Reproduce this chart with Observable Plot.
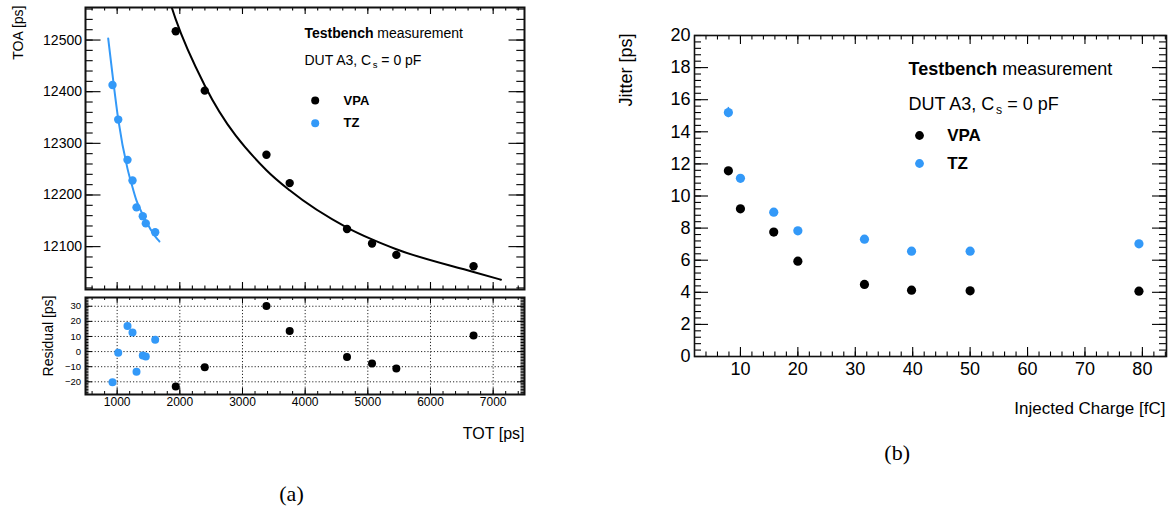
<!DOCTYPE html>
<html>
<head>
<meta charset="utf-8">
<script src="https://cdn.jsdelivr.net/npm/d3@7"></script>
<script src="https://cdn.jsdelivr.net/npm/@observablehq/plot@0.6"></script>
<style>
  html, body { margin: 0; padding: 0; background: #fff; }
  #wrap { position: relative; width: 1173px; height: 511px; overflow: hidden; background: #fff; }
  #wrap svg { position: absolute; overflow: visible; }
</style>
</head>
<body>
<div id="wrap"></div>
<script>
// ---------------- DATA ----------------
// (a) top: TOA vs TOT
const totVPA = [1935, 2398, 3382, 3753, 4668, 5067, 5455, 6687];
const toaVPA = [12517, 12402, 12278, 12223, 12134, 12106, 12084, 12062];
const totTZ  = [926, 1017, 1165, 1245, 1309, 1409, 1457, 1607];
const toaTZ  = [12413, 12346, 12268, 12228, 12176, 12159, 12145, 12128];
// fit curves, points
const fitVPAtot = [1800, 1935, 2398, 3382, 3753, 4668, 5067, 5455, 6687, 7124];
const fitVPAtoa = [12590, 12540, 12412, 12248, 12209, 12137, 12114, 12095, 12051, 12036];
const fitTZtot  = [857, 926, 1017, 1165, 1245, 1309, 1409, 1457, 1607, 1675];
const fitTZtoa  = [12503, 12433, 12347, 12251, 12215, 12189, 12162, 12150, 12120, 12110];
// (a) bottom: residuals
const resVPA = [-23.1, -10.3, 30.2, 13.7, -3.5, -7.9, -11.2, 10.6];
const resTZ  = [-20.3, -0.8, 17.0, 12.6, -13.4, -2.6, -3.3, 7.8];
// (b) jitter vs injected charge
const charge    = [7.9, 10, 15.8, 20, 31.6, 39.8, 50, 79.4];
const jitterVPA = [11.57, 9.2, 7.75, 5.94, 4.49, 4.13, 4.09, 4.07];
const jitterTZ  = [15.2, 11.1, 8.99, 7.83, 7.31, 6.56, 6.56, 7.02];
const errVPA    = [0.15, 0.1, 0.08, 0.06, 0.05, 0.05, 0.05, 0.05];
const errTZ     = [0.32, 0.12, 0.1, 0.08, 0.08, 0.07, 0.07, 0.08];
// tick labels
const totTicks    = [1000, 2000, 3000, 4000, 5000, 6000, 7000];
const toaTicks    = [12100, 12200, 12300, 12400, 12500];
const resTicks    = [-20, -10, 0, 10, 20, 30];
const chargeTicks = [10, 20, 30, 40, 50, 60, 70, 80];
const jitterTicks = [0, 2, 4, 6, 8, 10, 12, 14, 16, 18, 20];
// series
const seriesNames = ["VPA", "TZ"];
const seriesColors = ["#000000", "#3399f8"];
// text
const titleBold = "Testbench";
const titleRest = "measurement";
const dutText = "DUT A3, C";
const dutSub = "s";
const dutRest = "= 0 pF";
const labelTOA = "TOA [ps]";
const labelRes = "Residual [ps]";
const labelTOT = "TOT [ps]";
const labelJit = "Jitter [ps]";
const labelQ = "Injected Charge [fC]";
const capA = "(a)";
const capB = "(b)";

// ---------------- helpers ----------------
const FONT = "Liberation Sans, Arial, Helvetica, sans-serif";
const BLUE = seriesColors[1];
const ctx = document.createElement("canvas").getContext("2d");
function tw(str, size, weight = "normal") {
  ctx.font = `${weight} ${size}px "Liberation Sans"`;
  return ctx.measureText(str).width;
}
function inDom(arr, dom) { return arr.filter(d => d >= Math.min(...dom) - 1e-9 && d <= Math.max(...dom) + 1e-9); }
function rootTicks({xMaj, xMin, yMaj, yMin, iw, ih, xL, xl, yL, yl, sw = 1.1}) {
  const st = {stroke: "#000", strokeWidth: sw};
  return [
    Plot.tickX(xMaj, {x: d => d, insetTop: ih - xL, ...st}),
    Plot.tickX(xMaj, {x: d => d, insetBottom: ih - xL, ...st}),
    Plot.tickX(xMin, {x: d => d, insetTop: ih - xl, ...st}),
    Plot.tickX(xMin, {x: d => d, insetBottom: ih - xl, ...st}),
    Plot.tickY(yMaj, {y: d => d, insetRight: iw - yL, ...st}),
    Plot.tickY(yMaj, {y: d => d, insetLeft: iw - yL, ...st}),
    Plot.tickY(yMin, {y: d => d, insetRight: iw - yl, ...st}),
    Plot.tickY(yMin, {y: d => d, insetLeft: iw - yl, ...st})
  ];
}
function txt(str, o) {
  return Plot.text([str], {text: d => d, frameAnchor: "top-left", textAnchor: "start", lineAnchor: "middle", fill: "#000", ...o});
}
function header(x0, y1, y2, ly1, ly2, dotX, labX, size, legSize, r) {
  const sub = size * 0.68;
  const sp = tw(" ", size);
  const wB = tw(titleBold, size, "bold");
  const wC = tw(dutText, size);
  const wS = tw(dutSub, sub);
  return [
    txt(titleBold, {dx: x0, dy: y1, fontSize: size, fontWeight: "bold"}),
    txt(titleRest, {dx: x0 + wB + sp, dy: y1, fontSize: size}),
    txt(dutText, {dx: x0, dy: y2, fontSize: size}),
    txt(dutSub, {dx: x0 + wC + 0.5, dy: y2 + size * 0.32, fontSize: sub}),
    txt(dutRest, {dx: x0 + wC + wS + sp + 0.5, dy: y2, fontSize: size}),
    Plot.dot([0], {frameAnchor: "top-left", dx: dotX, dy: ly1, r, fill: seriesColors[0]}),
    Plot.dot([0], {frameAnchor: "top-left", dx: dotX, dy: ly2, r, fill: seriesColors[1]}),
    txt(seriesNames[0], {dx: labX, dy: ly1, fontSize: legSize, fontWeight: "bold"}),
    txt(seriesNames[1], {dx: labX, dy: ly2, fontSize: legSize, fontWeight: "bold"})
  ];
}
const wrap = document.getElementById("wrap");
function place(svg, left, top) {
  svg.style.left = left + "px";
  svg.style.top = top + "px";
  wrap.appendChild(svg);
}
const style = {fontFamily: FONT, fontSize: "14px", background: "transparent", color: "#000"};

// ---------------- tables ----------------
const vpaPts = totVPA.map((t, i) => ({tot: t, toa: toaVPA[i], res: resVPA[i]}));
const tzPts = totTZ.map((t, i) => ({tot: t, toa: toaTZ[i], res: resTZ[i]}));
const fitVPA = fitVPAtot.map((t, i) => ({tot: t, toa: fitVPAtoa[i]}));
const fitTZ = fitTZtot.map((t, i) => ({tot: t, toa: fitTZtoa[i]}));
const jitVPA = charge.map((q, i) => ({q, j: jitterVPA[i], e: errVPA[i]}));
const jitTZ = charge.map((q, i) => ({q, j: jitterTZ[i], e: errTZ[i]}));

// ---------------- (a) top panel ----------------
const totDomain = [495, 7500];
const toaDomain = [12017, 12563];
const resDomain = [-28.4, 35.8];
const totMinor = inDom(d3.range(600, 7500, 200), totDomain);
const toaMinor = inDom(d3.range(12020, 12563, 20), toaDomain);
const resMinor = inDom(d3.range(-28, 36, 1), resDomain);

{
  const w = 540, h = 296, ml = 85, mr = 16, mt = 7, mb = 7;
  const iw = w - ml - mr, ih = h - mt - mb;
  const svg = Plot.plot({
    width: w, height: h, marginLeft: ml, marginRight: mr, marginTop: mt, marginBottom: mb,
    x: {domain: totDomain, axis: null},
    y: {domain: toaDomain, axis: null},
    style,
    marks: [
      Plot.line(fitVPA, {x: "tot", y: "toa", stroke: seriesColors[0], strokeWidth: 2, curve: "monotone-x", clip: true}),
      Plot.line(fitTZ, {x: "tot", y: "toa", stroke: BLUE, strokeWidth: 2, curve: "monotone-x", clip: true}),
      Plot.dot(vpaPts, {x: "tot", y: "toa", r: 4.2, fill: seriesColors[0]}),
      Plot.dot(tzPts, {x: "tot", y: "toa", r: 4.2, fill: BLUE}),
      ...rootTicks({xMaj: totTicks, xMin: totMinor, yMaj: toaTicks, yMin: toaMinor, iw, ih, xL: 7, xl: 3.5, yL: 15.5, yl: 7.7}),
      Plot.frame({stroke: "#111", strokeWidth: 2}),
      Plot.axisY({ticks: toaTicks, tickSize: 0, tickPadding: 3.5, fontSize: 14, tickFormat: d3.format("d"), label: null}),
      Plot.text([labelTOA], {text: d => d, frameAnchor: "top-left", dx: -67, dy: -2, rotate: -90, textAnchor: "end", lineAnchor: "middle", fontSize: 14}),
      ...header(219, 26, 53, 93, 115.7, 229.7, 258, 14, 13, 4)
    ]
  });
  place(svg, 0, 0);
}

// ---------------- (a) residual panel ----------------
{
  const w = 540, h = 221, ml = 85, mr = 16, mt = 7, mb = 117;
  const iw = w - ml - mr, ih = h - mt - mb;
  const svg = Plot.plot({
    width: w, height: h, marginLeft: ml, marginRight: mr, marginTop: mt, marginBottom: mb,
    x: {domain: totDomain, axis: null},
    y: {domain: resDomain, axis: null},
    style,
    marks: [
      Plot.gridX({ticks: totTicks, stroke: "#000", strokeOpacity: 0.85, strokeWidth: 1, strokeDasharray: "1.2,2"}),
      Plot.gridY({ticks: resTicks, stroke: "#000", strokeOpacity: 0.85, strokeWidth: 1, strokeDasharray: "1.2,2"}),
      Plot.dot(vpaPts, {x: "tot", y: "res", r: 4, fill: seriesColors[0]}),
      Plot.dot(tzPts, {x: "tot", y: "res", r: 4, fill: BLUE}),
      ...rootTicks({xMaj: totTicks, xMin: totMinor, yMaj: resTicks, yMin: resMinor, iw, ih, xL: 6, xl: 3, yL: 7, yl: 3.5, sw: 1}),
      Plot.frame({stroke: "#111", strokeWidth: 2}),
      Plot.axisY({ticks: resTicks, tickSize: 0, tickPadding: 4.5, fontSize: 9.5, tickFormat: d3.format("d"), label: null}),
      Plot.axisX({ticks: totTicks, tickSize: 0, tickPadding: 3, fontSize: 12, tickFormat: d3.format("d"), label: null}),
      Plot.text([labelRes], {text: d => d, frameAnchor: "top-left", dx: -37, dy: -2, rotate: -90, textAnchor: "end", lineAnchor: "middle", fontSize: 14}),
      Plot.text([labelTOT], {text: d => d, frameAnchor: "bottom-right", dx: 0, dy: 39, textAnchor: "end", lineAnchor: "middle", fontSize: 16}),
      Plot.text([capA], {text: d => d, frameAnchor: "bottom", dx: -13.5, dy: 99, textAnchor: "middle", lineAnchor: "middle", fontSize: 22, fontFamily: "Liberation Serif, DejaVu Serif, serif"})
    ]
  });
  place(svg, 0, 290);
}

// ---------------- (b) jitter panel ----------------
{
  const qDomain = [2, 84.2];
  const jDomain = [0, 20];
  const w = 573, h = 511, ml = 94, mr = 7, mt = 35, mb = 155;
  const iw = w - ml - mr, ih = h - mt - mb;
  const qMinor = inDom(d3.range(4, 84.2, 2), qDomain);
  const jMinor = inDom(d3.range(0, 20.01, 0.4).map(d => +d.toFixed(2)), jDomain);
  const svg = Plot.plot({
    width: w, height: h, marginLeft: ml, marginRight: mr, marginTop: mt, marginBottom: mb,
    x: {domain: qDomain, axis: null},
    y: {domain: jDomain, axis: null},
    style,
    marks: [
      Plot.ruleX(jitVPA, {x: "q", y1: d => d.j - d.e, y2: d => d.j + d.e, stroke: seriesColors[0], strokeWidth: 1.5}),
      Plot.ruleX(jitTZ, {x: "q", y1: d => d.j - d.e, y2: d => d.j + d.e, stroke: BLUE, strokeWidth: 1.5}),
      Plot.dot(jitVPA, {x: "q", y: "j", r: 4.6, fill: seriesColors[0]}),
      Plot.dot(jitTZ, {x: "q", y: "j", r: 4.6, fill: BLUE}),
      ...rootTicks({xMaj: chargeTicks, xMin: qMinor, yMaj: jitterTicks, yMin: jMinor, iw, ih, xL: 9, xl: 4.5, yL: 14, yl: 7, sw: 1.1}),
      Plot.frame({stroke: "#111", strokeWidth: 1.6}),
      Plot.axisY({ticks: jitterTicks, tickSize: 0, tickPadding: 4, fontSize: 18, tickFormat: d3.format("d"), label: null}),
      Plot.axisX({ticks: chargeTicks, tickSize: 0, tickPadding: 6, fontSize: 18, tickFormat: d3.format("d"), label: null}),
      Plot.text([labelJit], {text: d => d, frameAnchor: "top-left", dx: -68, dy: -2, rotate: -90, textAnchor: "end", lineAnchor: "middle", fontSize: 18}),
      Plot.text([labelQ], {text: d => d, frameAnchor: "bottom-right", dx: -1, dy: 52, textAnchor: "end", lineAnchor: "middle", fontSize: 17}),
      Plot.text([capB], {text: d => d, frameAnchor: "bottom", dx: -33.3, dy: 96, textAnchor: "middle", lineAnchor: "middle", fontSize: 22, fontFamily: "Liberation Serif, DejaVu Serif, serif"}),
      ...header(214, 34, 68.4, 100, 128, 225, 252.7, 18, 17, 4.4)
    ]
  });
  place(svg, 600, 0);
}
</script>
</body>
</html>
